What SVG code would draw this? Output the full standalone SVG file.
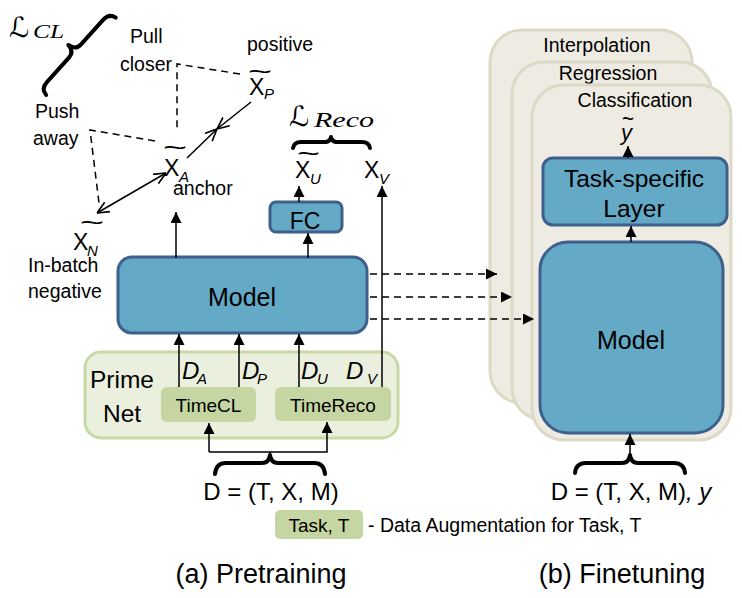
<svg xmlns="http://www.w3.org/2000/svg" width="742" height="598" viewBox="0 0 742 598">
<style>
text{font-family:"Liberation Sans",Arial,sans-serif;fill:#000}
.lbl{font-size:19.5px}
.it{font-style:italic}
.x{font-size:23px}
.sub{font-size:15px;font-style:italic}
.til{font-size:24px;font-style:normal}
.blue{fill:#64a9c5;stroke:#3f5f8c;stroke-width:3}
.prime{fill:#ebf0de;stroke:#c8d9a6;stroke-width:3}
.green{fill:#c6d6a2}
.panel{fill:#eeebe2;stroke:#dcd9c6;stroke-width:3}
.ln{stroke:#000;stroke-width:1.5;fill:none}
.dash{stroke:#000;stroke-width:1.5;fill:none;stroke-dasharray:7 5}
.brace{stroke:#000;stroke-width:4;fill:none;stroke-linecap:round;stroke-linejoin:round}
.scr{font-family:"DejaVu Serif","DejaVu Sans",serif;font-style:italic}
.msub{font-family:"Liberation Serif",serif;font-style:italic}
</style>
<defs>
<marker id="ah" viewBox="0 0 10 10" refX="10" refY="5" markerWidth="11" markerHeight="11" markerUnits="userSpaceOnUse" orient="auto"><path d="M0,0 L10,5 L0,10 z" fill="#000"/></marker>
<marker id="oh" viewBox="0 0 10 10" refX="10" refY="5" markerWidth="12" markerHeight="12" markerUnits="userSpaceOnUse" orient="auto-start-reverse"><path d="M0,0.5 L10,5 L0,9.5" fill="none" stroke="#000" stroke-width="1.4"/></marker>
</defs>

<!-- Finetuning panels -->
<g id="panel-interpolation"><rect class="panel" x="490" y="30" width="202" height="373" rx="32"/><text class="lbl" x="597" y="52" text-anchor="middle">Interpolation</text></g>
<g id="panel-regression"><rect class="panel" x="512" y="62" width="200" height="358" rx="32"/><text class="lbl" x="608" y="80" text-anchor="middle">Regression</text></g>
<g id="panel-classification"><rect class="panel" x="532" y="85" width="199" height="355" rx="32"/><text class="lbl" x="635" y="107" text-anchor="middle">Classification</text></g>

<g id="task-layer"><rect class="blue" x="543" y="158" width="184" height="67" rx="10"/><text x="634" y="187" font-size="24.5" text-anchor="middle">Task-specific</text><text x="634" y="217" font-size="24.5" text-anchor="middle">Layer</text></g>
<g id="model-ft"><rect class="blue" x="540" y="242" width="183" height="191" rx="28" stroke-width="3.5"/><text x="631" y="349" font-size="25" text-anchor="middle">Model</text></g>
<g id="y-tilde"><text font-size="22" class="it"><tspan class="til" x="622" y="127" textLength="12" lengthAdjust="spacingAndGlyphs">~</tspan><tspan x="621" y="140">y</tspan></text></g>
<g id="d-ft"><path class="brace" d="M575,473 Q576,463 586,463 L622,463 Q629,463 630,455 Q631,463 638,463 L674,463 Q684,463 685,473"/><text x="631" y="500" font-size="24" text-anchor="middle">D = (T, X, M)<tspan class="it">, y</tspan></text></g>

<!-- Pretraining -->
<g id="model"><rect class="blue" x="118" y="257" width="249" height="76" rx="14"/><text x="242" y="306" font-size="25" text-anchor="middle">Model</text></g>
<g id="fc"><rect class="blue" x="270" y="202" width="72" height="30" rx="6"/><text x="305" y="229" font-size="23" text-anchor="middle">FC</text></g>
<g id="primenet"><rect class="prime" x="85" y="352" width="313" height="86" rx="16"/><text x="90" y="388" font-size="24.5">Prime</text><text x="103" y="422" font-size="24.5">Net</text></g>
<g id="timecl"><rect class="green" x="161" y="387" width="95" height="35" rx="6"/><text x="208.5" y="412" font-size="19" text-anchor="middle">TimeCL</text></g>
<g id="timereco"><rect class="green" x="275" y="387" width="116" height="34" rx="6"/><text x="333" y="412" font-size="19" text-anchor="middle">TimeReco</text></g>

<g id="labels-d">
<text font-size="24" class="it"><tspan x="182" y="379">D</tspan><tspan class="sub" x="197" y="384">A</tspan></text>
<text font-size="24" class="it"><tspan x="242" y="379">D</tspan><tspan class="sub" x="257" y="384">P</tspan></text>
<text font-size="24" class="it"><tspan x="301" y="379">D</tspan><tspan class="sub" x="317" y="384">U</tspan></text>
<text font-size="24" class="it"><tspan x="346" y="379">D</tspan><tspan class="sub" x="367" y="384">V</tspan></text>
</g>

<g id="d-pre"><path class="brace" d="M215,474 Q216,463 226,463 L262,463 Q269,463 270,455 Q271,463 278,463 L314,463 Q324,463 325,474"/><text x="271" y="500" font-size="24" text-anchor="middle">D = (T, X, M)</text></g>

<g id="x-p"><text class="x"><tspan class="til" x="248" y="80" textLength="24" lengthAdjust="spacingAndGlyphs">~</tspan><tspan x="249" y="95">X</tspan><tspan class="sub" x="264" y="99">P</tspan></text></g>
<g id="x-a"><text class="x"><tspan class="til" x="163" y="156" textLength="24" lengthAdjust="spacingAndGlyphs">~</tspan><tspan x="164" y="176">X</tspan><tspan class="sub" x="179" y="182">A</tspan></text><text class="lbl" x="173" y="195">anchor</text></g>
<g id="x-n"><text class="x"><tspan class="til" x="80" y="231" textLength="24" lengthAdjust="spacingAndGlyphs">~</tspan><tspan x="73" y="250">X</tspan><tspan class="sub" x="87" y="256">N</tspan></text><text class="lbl" x="28" y="272">In-batch</text><text class="lbl" x="28" y="298">negative</text></g>
<g id="x-u"><text class="x"><tspan class="til" x="297" y="162" textLength="23" lengthAdjust="spacingAndGlyphs">~</tspan><tspan x="295" y="178">X</tspan><tspan class="sub" x="310" y="184">U</tspan></text></g>
<g id="x-v"><text class="x"><tspan x="364" y="178">X</tspan><tspan class="sub" x="379" y="184">V</tspan></text></g>

<g id="texts">
<text class="lbl" x="247" y="51">positive</text>
<text class="lbl" x="130" y="43">Pull</text>
<text class="lbl" x="120" y="71">closer</text>
<text class="lbl" x="35" y="118">Push</text>
<text class="lbl" x="33" y="145">away</text>
</g>

<g id="loss-cl"><text font-size="28" class="scr"><tspan x="9" y="37">ℒ</tspan><tspan class="msub" font-size="19" x="33" y="38" textLength="31" lengthAdjust="spacingAndGlyphs">CL</tspan></text><path class="brace" transform="translate(75,51) rotate(-48)" stroke-width="4.5" d="M-52,8 Q-51,0 -42,0 L-9,0 Q-1,0 0,-9 Q1,0 9,0 L42,0 Q51,0 52,8"/></g>
<g id="loss-reco"><text font-size="28" class="scr"><tspan x="289" y="126">ℒ</tspan><tspan class="msub" font-size="20" x="314" y="127" textLength="60" lengthAdjust="spacingAndGlyphs">Reco</tspan></text><path class="brace" stroke-width="3.5" d="M293,148 Q294,142 301,142 L325,142 Q330,142 331,137 Q332,142 337,142 L362,142 Q369,142 370,148"/></g>

<g id="legend"><rect class="green" x="275" y="510" width="88" height="29" rx="5"/><text x="319" y="532" font-size="19" text-anchor="middle">Task, T</text><text x="368" y="532" font-size="19.5">- Data Augmentation for Task, T</text></g>
<g id="captions"><text x="261" y="583" font-size="27" text-anchor="middle">(a) Pretraining</text><text x="622" y="583" font-size="27" text-anchor="middle">(b) Finetuning</text></g>

<g id="connectors">
<path class="dash" d="M240,74 L177,64 L177,131"/>
<path class="dash" d="M155,141 L90,130 L99,203"/>
<path class="ln" d="M187,158 L217,129" marker-end="url(#oh)"/>
<path class="ln" d="M251,102 L217,129" marker-end="url(#oh)"/>
<path class="ln" d="M97,213 L166,173" marker-start="url(#oh)" marker-end="url(#oh)"/>
<path class="ln" d="M176,258 L176,212" marker-end="url(#ah)"/>
<path class="ln" d="M308,258 L308,233" marker-end="url(#ah)"/>
<path class="ln" d="M299,202 L299,186" marker-end="url(#ah)"/>
<path class="ln" d="M382,387 L382,186" marker-end="url(#ah)"/>
<path class="ln" d="M179,387 L179,334" marker-end="url(#ah)"/>
<path class="ln" d="M239,387 L239,334" marker-end="url(#ah)"/>
<path class="ln" d="M299,387 L299,334" marker-end="url(#ah)"/>
<path class="ln" d="M270,455 L270,452"/>
<path class="ln" d="M209,452 L209,423" marker-end="url(#ah)"/>
<path class="ln" d="M209,452 L327,452 L327,422" marker-end="url(#ah)"/>
<path class="dash" d="M370,274 L497,274" marker-end="url(#ah)"/>
<path class="dash" d="M370,297 L512,297" marker-end="url(#ah)"/>
<path class="dash" d="M370,319 L534,319" marker-end="url(#ah)"/>
<path class="ln" d="M630,456 L630,434" marker-end="url(#ah)"/>
<path class="ln" d="M631,242 L631,226" marker-end="url(#ah)"/>
<path class="ln" d="M628,158 L628,146" marker-end="url(#ah)"/>
</g>
</svg>
